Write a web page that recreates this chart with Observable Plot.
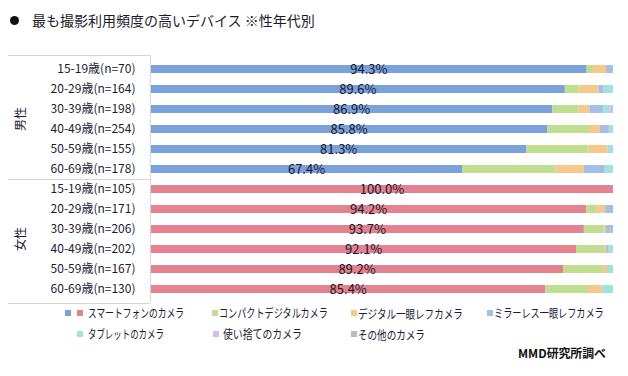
<!DOCTYPE html>
<html>
<head>
<meta charset="utf-8">
<script src="https://cdn.jsdelivr.net/npm/d3@7"></script>
<script src="https://cdn.jsdelivr.net/npm/@observablehq/plot@0.6"></script>
<style>
  html, body { margin: 0; padding: 0; background: #fff; }
  body { width: 628px; height: 376px; position: relative; overflow: hidden; font-family: "Noto Sans CJK JP", sans-serif; }
  #bullet { position: absolute; left: 10px; top: 16px; width: 9px; height: 9px; border-radius: 50%; background: #111; }
  #title { position: absolute; left: 32px; top: 12px; font-size: 14px; line-height: 16px; color: #1b1b2b; white-space: nowrap; }
  #chart { position: absolute; left: 0; top: 45px; }
  #legend { position: absolute; left: 0; top: 300px; }
</style>
</head>
<body>
<div id="bullet"></div>
<div id="title">最も撮影利用頻度の高いデバイス ※性年代別</div>
<div id="chart"></div>
<div id="legend"></div>
<script>
// ---------- data ----------
const groups = ["男性", "女性"];
const ageLabels = ["15-19歳", "20-29歳", "30-39歳", "40-49歳", "50-59歳", "60-69歳"];
const nMale = [70, 164, 198, 254, 155, 178];
const nFemale = [105, 171, 206, 202, 167, 130];
const seriesNames = ["スマートフォンのカメラ", "コンパクトデジタルカメラ", "デジタル一眼レフカメラ", "ミラーレス一眼レフカメラ", "タブレットのカメラ", "使い捨てのカメラ", "その他のカメラ"];

const maleSmartphone  = [94.3, 89.6, 86.9, 85.8, 81.3, 67.4];
const maleCompact     = [1.4, 3.0, 5.6, 9.0, 13.4, 20.2];
const maleSLR         = [2.8, 4.3, 2.4, 2.4, 4.1, 6.1];
const maleMirrorless  = [1.5, 1.1, 3.0, 1.9, 0, 4.5];
const maleTablet      = [0, 2.0, 1.4, 0.9, 1.2, 1.8];
const maleDisposable  = [0, 0, 0.7, 0, 0, 0];
const maleOther       = [0, 0, 0, 0, 0, 0];

const femaleSmartphone = [100.0, 94.2, 93.7, 92.1, 89.2, 85.4];
const femaleCompact    = [0, 2.3, 4.3, 6.1, 8.4, 9.2];
const femaleSLR        = [0, 1.8, 0.4, 0.3, 1.1, 3.0];
const femaleMirrorless = [0, 1.7, 1.1, 0.4, 0, 0];
const femaleTablet     = [0, 0, 0, 1.1, 1.3, 2.4];
const femaleDisposable = [0, 0, 0, 0, 0, 0];
const femaleOther      = [0, 0, 0.5, 0, 0, 0];

const sourceText = "MMD研究所調べ";

// ---------- styles ----------
const maleSmartColor = "#7BA1DB";
const femaleSmartColor = "#E5828F";
const otherColors = ["#BFDE90", "#F5C98A", "#A5BEE6", "#A3E1E1", "#D3BDE8", "#BBBBBB"];
const font = "'Noto Sans CJK JP', sans-serif";

// ---------- build table ----------
const maleSeries = [maleSmartphone, maleCompact, maleSLR, maleMirrorless, maleTablet, maleDisposable, maleOther];
const femaleSeries = [femaleSmartphone, femaleCompact, femaleSLR, femaleMirrorless, femaleTablet, femaleDisposable, femaleOther];
const keys = [];
const rows = [];
const long = [];
groups.forEach((g, gi) => {
  const ns = gi === 0 ? nMale : nFemale;
  const ser = gi === 0 ? maleSeries : femaleSeries;
  ageLabels.forEach((a, i) => {
    const key = `${g}|${a}(n=${ns[i]})`;
    keys.push(key);
    rows.push({key, smart: ser[0][i]});
    seriesNames.forEach((s, si) => {
      const colorKey = si === 0 ? `${s}|${g}` : s;
      if (ser[si][i] > 0) long.push({key, series: s, colorKey, value: ser[si][i]});
    });
  });
});
const colorDomain = [`${seriesNames[0]}|${groups[0]}`, `${seriesNames[0]}|${groups[1]}`, ...seriesNames.slice(1)];
const colorRange = [maleSmartColor, femaleSmartColor, ...otherColors];

const plot = Plot.plot({
  width: 628,
  height: 262,
  marginTop: 10,
  marginBottom: 4,
  marginLeft: 150,
  marginRight: 15,
  style: {fontFamily: font, fontSize: "12px", color: "#1b1b33", background: "transparent"},
  x: {domain: [0, 100], axis: null},
  y: {domain: keys, paddingInner: 0.62, paddingOuter: 0.31, tickSize: 0, tickPadding: 15, label: null,
      tickFormat: d => d.split("|")[1]},
  color: {type: "ordinal", domain: colorDomain, range: colorRange},
  marks: [
    Plot.barX(long, {x: "value", y: "key", fill: "colorKey"}),
    Plot.text(rows, Plot.stackX({x: "smart", y: "key", text: d => d.smart.toFixed(1) + "%",
      fontSize: 13, fill: "#1a1a2e"}))
  ]
});
document.getElementById("chart").appendChild(plot);

// ---------- frame lines & group labels ----------
const ys = plot.scale("y");
const bw = ys.bandwidth;
const svgSel = d3.select(plot);
const frameTop = 10, frameBottom = 262 - 4;
const midLine = (ys.apply(keys[5]) + bw + ys.apply(keys[6])) / 2;
const lineColor = "#d6d6d6";
const frame = svgSel.append("g").attr("stroke", lineColor).attr("stroke-width", 1);
[frameTop, midLine, frameBottom].forEach(y => frame.append("line").attr("x1", 8).attr("x2", 150).attr("y1", Math.round(y) + 0.5).attr("y2", Math.round(y) + 0.5));
frame.append("line").attr("x1", 150.5).attr("x2", 150.5).attr("y1", frameTop).attr("y2", frameBottom);
groups.forEach((gname, gi) => {
  const c = (ys.apply(keys[gi * 6]) + ys.apply(keys[gi * 6 + 5]) + bw) / 2;
  svgSel.append("text").attr("transform", `translate(19,${c}) rotate(-90)`)
    .attr("text-anchor", "middle").attr("dominant-baseline", "central")
    .attr("font-size", 12).attr("fill", "#1b1b33").attr("font-family", font).text(gname);
});

// ---------- legend ----------
const leg = d3.select("#legend").append("svg").attr("width", 628).attr("height", 76)
  .style("font-family", font);
const legendItems = [
  {label: seriesNames[0], colors: [maleSmartColor, femaleSmartColor], sx: [65, 77], tx: 88, tw: 96, row: 0},
  {label: seriesNames[1], colors: [otherColors[0]], sx: [212], tx: 219, tw: 109, row: 0},
  {label: seriesNames[2], colors: [otherColors[1]], sx: [351], tx: 358, tw: 105, row: 0},
  {label: seriesNames[3], colors: [otherColors[2]], sx: [487], tx: 494, tw: 110, row: 0},
  {label: seriesNames[4], colors: [otherColors[3]], sx: [77], tx: 88, tw: 76, row: 1},
  {label: seriesNames[5], colors: [otherColors[4]], sx: [213], tx: 223, tw: 79, row: 1},
  {label: seriesNames[6], colors: [otherColors[5]], sx: [351], tx: 358, tw: 67, row: 1}
];
function fitText(sel, width) {
  const w = sel.node().getComputedTextLength();
  return w > 0 ? width / w : 1;
}
legendItems.forEach(it => {
  const cy = 13 + it.row * 21;
  it.colors.forEach((c, i) => leg.append("rect").attr("x", it.sx[i]).attr("y", cy - 3).attr("width", 6).attr("height", 6).attr("fill", c));
  const gt = leg.append("g");
  const t = gt.append("text").attr("x", 0).attr("y", 0).attr("dominant-baseline", "central")
    .attr("font-size", 12).attr("fill", "#1b1b33").text(it.label);
  const k = fitText(t, it.tw);
  gt.attr("transform", `translate(${it.tx},${cy}) scale(${k},1)`);
});
const sg = leg.append("g");
const st = sg.append("text").attr("x", 0).attr("y", 0).attr("dominant-baseline", "central")
  .attr("font-size", 12).attr("font-weight", "bold").attr("fill", "#111").text(sourceText);
const sk = fitText(st, 88);
sg.attr("transform", `translate(518,52) scale(${sk},1)`);
</script>
</body>
</html>
